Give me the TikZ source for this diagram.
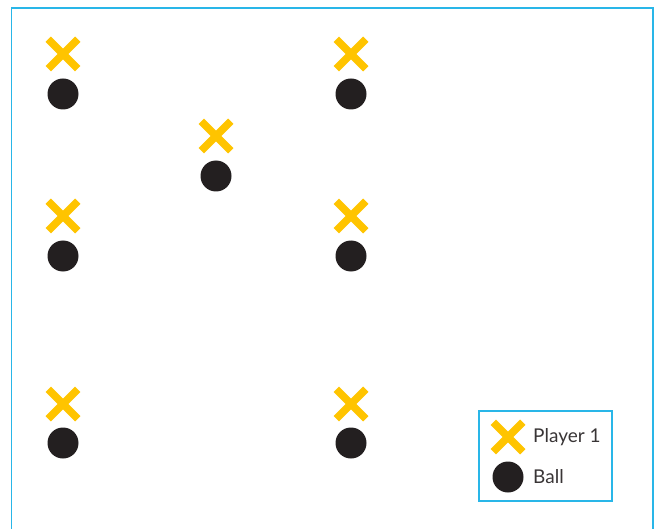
\documentclass[tikz,border=0pt]{standalone}
\usepackage{fontspec}
\setmainfont{Lato}
\usepackage{tikz}
\usetikzlibrary{positioning, shapes.misc}
\definecolor{FrameBlue}{RGB}{41, 182, 232}
\definecolor{MarkYellow}{RGB}{255, 196, 0}
\definecolor{BallBlack}{RGB}{35, 31, 32}

\begin{document}
\begin{tikzpicture}[x=1bp, y=-1bp,
      player/.style={cross out, draw=MarkYellow, line width=7.5bp, minimum size=22bp, inner sep=0pt},
      ball/.style={circle, fill=BallBlack, minimum size=31bp, inner sep=0pt},
      frame/.style={draw=FrameBlue, line width=1.5bp},
      legendtext/.style={right, inner sep=0pt, font=\fontsize{19bp}{22bp}\selectfont, text=BallBlack!90}
    ]
      \useasboundingbox (0,0) rectangle (657,529);
      \draw[frame] (11.5,529) -- (11.5,8) -- (653,8) -- (653,529);

      % top row
      \node[player] (p1) at (63,54) {};
      \node[ball] (b1) at (63,94) {};
      \node[player] (p2) at (351,54) {};
      \node[ball] (b2) at (351,94) {};

      % middle one
      \node[player] (p3) at (216,136) {};
      \node[ball] (b3) at (216,176) {};

      \node[player] (p4) at (63,216) {};
      \node[ball] (b4) at (63,256) {};
      \node[player] (p5) at (351,216) {};
      \node[ball] (b5) at (351,256) {};

      % bottom row
      \node[player] (p6) at (63,404) {};
      \node[ball] (b6) at (63,443) {};
      \node[player] (p7) at (351,404) {};
      \node[ball] (b7) at (351,443) {};

      % legend
      \draw[frame] (479,411) rectangle (612,501);
      \node[player] (lp) at (508,437) {};
      \node[ball] (lb) at (508,477) {};
      \node[legendtext] (lpt) at (533,437) {Player 1};
      \node[legendtext] (lbt) at (533,477) {Ball};
    \end{tikzpicture}
\end{document}
